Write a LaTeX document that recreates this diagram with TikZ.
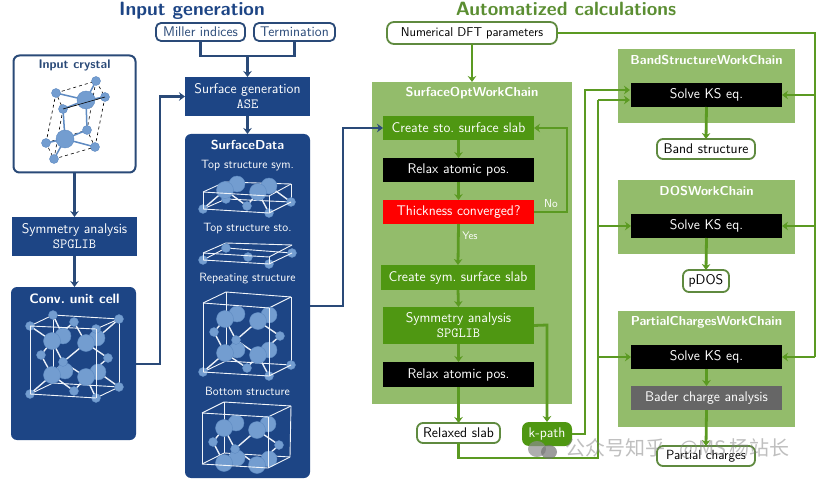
\documentclass[tikz,border=0pt]{standalone}
\usepackage{fontspec}
\newfontfamily\cjkwm{Noto Sans CJK SC}
\usetikzlibrary{arrows.meta,calc}
\definecolor{dblue}{HTML}{1D4585}
\definecolor{cblue}{HTML}{2A4A78}
\definecolor{atomc}{HTML}{739DD0}
\definecolor{atome}{HTML}{5F8BC2}
\definecolor{dgreen}{HTML}{4F9712}
\definecolor{cgreen}{HTML}{5B9A22}
\definecolor{pgreen}{HTML}{93BC6B}
\definecolor{tgreen}{HTML}{5B8E32}
\definecolor{ogreen}{HTML}{5F8A3F}
\tikzset{
  x=1pt,y=-1pt,
  txt/.style={font=\sffamily\fontsize{14}{15}\selectfont,align=center,inner sep=0pt,outer sep=0pt},
  boxb/.style={txt,fill=dblue,text=white},
  boxg/.style={txt,fill=dgreen,text=white},
  boxk/.style={txt,fill=black,text=white},
  boxr/.style={txt,fill=red,text=white},
  boxy/.style={txt,fill=black!60,text=white},
  panelb/.style={txt,fill=dblue,text=white,rounded corners=6pt},
  panelg/.style={fill=pgreen,inner sep=0pt,outer sep=0pt},
  ptitle/.style={txt,font=\sffamily\bfseries\fontsize{13}{15}\selectfont,text=white},
  inb/.style={txt,draw=cblue,line width=1.8pt,fill=white,rounded corners=5pt,text=cblue},
  outg/.style={txt,draw=ogreen,line width=1.8pt,fill=white,rounded corners=6pt,text=black},
  arb/.style={draw=cblue,line width=2.8pt,-{Stealth[length=6pt,width=8.5pt]}},
  lnb/.style={draw=cblue,line width=2.8pt},
  arg/.style={draw=cgreen,line width=2.8pt,-{Stealth[length=6pt,width=8.5pt]}},
  lng/.style={draw=cgreen,line width=2.8pt},
  sm/.style={txt,font=\sffamily\fontsize{12}{14}\selectfont,text=white},
  ttl/.style={inner sep=0pt,font=\sffamily\bfseries\fontsize{19.2}{21}\selectfont},
  wl/.style={draw=white!90!atomc,line width=0.9pt},
  wb/.style={draw=white!85!atomc,line width=1.4pt},
}
\newcommand{\atm}[3]{\fill[atomc,draw=atome,line width=.4pt] (#1,#2) circle[radius=#3pt];}
\newcommand{\cel}[4]{\draw[wl] (#1,#2)--(#3,#4);}
\newcommand{\bnd}[4]{\draw[wb] (#1,#2)--(#3,#4);}
\begin{document}
\begin{tikzpicture}
\useasboundingbox (0,0) rectangle (830,481);
\fill[white] (0,0) rectangle (830,481);
% titles
\node[ttl,text=dblue,anchor=base] (t1) at (192,15.5) {Input generation};
\node[ttl,text=tgreen,anchor=base] (t2) at (566,15.5) {Automatized calculations};
% input side
\node[inb,minimum width=89pt,minimum height=18pt] (miller) at (200.5,32) {Miller indices};
\node[inb,minimum width=81pt,minimum height=18pt] (term) at (294.5,32) {Termination};
\node[boxb,minimum width=125pt,minimum height=39pt] (surfgen) at (247.5,96.5) {Surface generation\\\texttt{ASE}};
\node[panelb,minimum width=125pt,minimum height=344pt] (sdata) at (247.5,306) {};
\node[ptitle] (sdt) at (247.5,145) {SurfaceData};
\node[sm] (l1) at (247.5,166) {Top structure sym.};
\node[sm] (l2) at (247.5,229) {Top structure sto.};
\node[sm] (l3) at (247.5,279) {Repeating structure};
\node[sm] (l4) at (247.5,391) {Bottom structure};
\node[txt,draw=cblue,line width=2pt,fill=white,rounded corners=6pt,minimum width=122pt,minimum height=117pt] (crystal) at (74.5,114) {};
\node[txt,font=\sffamily\bfseries\fontsize{12.5}{14}\selectfont,text=cblue] (ict) at (74.5,65) {Input crystal};
\node[boxb,minimum width=125pt,minimum height=39pt] (symA) at (74.5,236.5) {Symmetry analysis\\\texttt{SPGLIB}};
\node[panelb,minimum width=125pt,minimum height=153pt] (conv) at (73.5,363.5) {};
\node[ptitle,font=\sffamily\bfseries\fontsize{13.6}{15}\selectfont] (cvt) at (74.5,299) {Conv.\ unit cell};
\coordinate (mj) at (247.5,56);
\coordinate (c1) at (160,364);
\coordinate (c2) at (343,306);
\draw[lnb] (miller.south) |- (mj) -| (term.south);
\draw[arb] (mj) -- (surfgen.north);
\draw[arb] (surfgen.south) -- (sdata.north);
\draw[arb] (crystal.south) -- (symA.north);
\draw[arb] (symA.south) -- (conv.north -| symA.south);
\draw[arb] (conv.east |- c1) -- (c1) |- (surfgen.west);
% input crystal
\begin{scope}
\draw[black,dashed,line width=.6pt] (56,93)--(96,81)--(105,97)--(63,109)--cycle (46,143)--(87,130)--(95,147)--(54,159)--cycle (56,93)--(46,143) (96,81)--(87,130) (105,97)--(95,147) (63,109)--(54,159);
\draw[atome,line width=1.5pt] (56,93)--(86,100)--(96,81) (86,100)--(105,97) (86,100)--(63,109) (86,100)--(87,130) (63,109)--(65,139) (65,139)--(46,143) (65,139)--(87,130) (65,139)--(95,147) (65,139)--(54,159);
\atm{86}{100}{9}\atm{65}{139}{9}
\atm{56}{93}{4.5}\atm{96}{81}{4.5}\atm{105}{97}{4.5}\atm{63}{109}{4.5}\atm{87}{130}{4.5}\atm{46}{143}{4.5}\atm{95}{147}{4.5}\atm{54}{159}{4.5}
\draw[black,line width=.6pt] (63,109)--(105,97);
\end{scope}
% conv cell
\cel{53}{315}{119}{319}\cel{53}{315}{30}{326}\cel{119}{319}{96}{329}\cel{119}{319}{119}{387}\cel{53}{315}{53}{383}\cel{53}{383}{30}{394}\cel{53}{383}{119}{387}\cel{119}{387}{96}{398}
\bnd{52}{341}{30}{326}\bnd{52}{341}{74}{322}\bnd{86}{343}{74}{322}\bnd{86}{343}{96}{329}\bnd{52}{341}{41}{355}\bnd{52}{341}{63}{362}\bnd{86}{343}{63}{362}\bnd{86}{343}{108}{358}\bnd{52}{375}{41}{355}\bnd{52}{375}{63}{362}\bnd{86}{377}{63}{362}\bnd{86}{377}{108}{358}\bnd{52}{375}{30}{394}\bnd{52}{375}{74}{391}\bnd{86}{377}{74}{391}\bnd{86}{377}{96}{398}\bnd{63}{336}{53}{315}\bnd{97}{338}{119}{319}\bnd{65}{371}{53}{383}\bnd{98}{372}{119}{387}
\atm{63}{336}{8}\atm{97}{338}{8}\atm{65}{371}{8}\atm{98}{372}{8}
\atm{53}{315}{4.5}\atm{74}{322}{4.5}\atm{119}{319}{4.5}\atm{41}{355}{4.5}\atm{108}{358}{4.5}\atm{63}{362}{4.5}\atm{119}{387}{4.5}\atm{74}{391}{4.5}
\atm{52}{341}{8.5}\atm{86}{343}{8.5}\atm{52}{375}{8.5}\atm{86}{377}{8.5}
\atm{30}{326}{4.5}\atm{96}{329}{4.5}\atm{30}{394}{4.5}\atm{96}{398}{4.5}
\cel{30}{326}{96}{329}\cel{30}{326}{30}{394}\cel{96}{329}{96}{398}\cel{30}{394}{96}{398}
% top sym
\cel{225}{182}{291}{184}\cel{225}{182}{203}{192}\cel{291}{184}{269}{196}\cel{203}{209}{226}{199}\cel{226}{199}{291}{202}\cel{291}{184}{291}{202}\cel{225}{182}{226}{199}
\bnd{225}{190}{203}{209}\bnd{225}{190}{247}{206}\bnd{258}{192}{247}{206}\bnd{258}{192}{269}{213}\bnd{269}{186}{291}{202}\bnd{237}{184}{226}{199}
\atm{237}{184}{8}\atm{269}{186}{8}\atm{226}{199}{4.5}\atm{247}{206}{4.5}\atm{225}{190}{8.5}\atm{258}{192}{8.5}
\atm{203}{209}{4.5}\atm{291}{202}{4.5}\atm{269}{213}{4.5}
\cel{203}{192}{269}{196}\cel{203}{192}{203}{209}\cel{269}{196}{269}{213}\cel{203}{209}{269}{213}\cel{269}{213}{291}{202}
% top sto
\cel{226}{243}{292}{245}\cel{226}{243}{203}{253}\cel{292}{245}{269}{257}\cel{203}{260}{226}{248}\cel{226}{248}{292}{253}
\atm{226}{248}{4.5}\atm{248}{257}{4.5}\atm{203}{260}{4.5}\atm{292}{253}{4.5}\atm{269}{264}{4.5}
\cel{203}{253}{269}{257}\cel{203}{253}{203}{260}\cel{269}{257}{269}{264}\cel{203}{260}{269}{264}\cel{269}{264}{292}{253}
% repeating
\cel{226}{292}{291}{297}\cel{226}{292}{203}{303}\cel{291}{297}{269}{308}\cel{291}{297}{291}{365}\cel{226}{292}{226}{361}\cel{226}{361}{203}{372}\cel{226}{361}{291}{365}
\bnd{225}{319}{214}{332}\bnd{225}{319}{236}{340}\bnd{258}{321}{236}{340}\bnd{258}{321}{280}{336}\bnd{225}{353}{214}{332}\bnd{225}{353}{236}{340}\bnd{258}{355}{236}{340}\bnd{258}{355}{280}{336}\bnd{225}{353}{203}{372}\bnd{225}{353}{247}{368}\bnd{258}{355}{247}{368}\bnd{258}{355}{269}{376}
\atm{237}{314}{8}\atm{269}{315}{8}\atm{237}{350}{8}\atm{269}{350}{8}
\atm{214}{332}{4.5}\atm{280}{336}{4.5}\atm{236}{340}{4.5}\atm{247}{368}{4.5}
\atm{225}{319}{8.5}\atm{258}{321}{8.5}\atm{225}{353}{8.5}\atm{258}{355}{8.5}
\atm{203}{372}{4.5}\atm{291}{365}{4.5}\atm{269}{376}{4.5}
\cel{203}{303}{269}{308}\cel{203}{303}{203}{372}\cel{269}{308}{269}{376}\cel{203}{372}{269}{376}\cel{269}{376}{291}{365}
% bottom
\cel{224}{402}{291}{406}\cel{224}{402}{202}{413}\cel{291}{406}{268}{417}\cel{291}{406}{290}{457}\cel{224}{402}{224}{453}\cel{224}{453}{202}{464}\cel{224}{453}{290}{457}
\bnd{224}{428}{213}{442}\bnd{224}{428}{235}{449}\bnd{257}{430}{235}{449}\bnd{257}{430}{279}{445}\bnd{224}{463}{213}{442}\bnd{224}{463}{235}{449}\bnd{257}{465}{279}{445}\bnd{257}{465}{235}{449}
\atm{236}{423}{8}\atm{268}{424}{8}\atm{237}{458}{8}\atm{269}{459}{8}
\atm{213}{442}{4.5}\atm{279}{445}{4.5}\atm{235}{449}{4.5}
\atm{224}{428}{8.5}\atm{257}{430}{8.5}\atm{224}{463}{8.5}\atm{257}{465}{8.5}
\cel{202}{413}{268}{417}\cel{202}{413}{202}{464}\cel{268}{417}{268}{468}\cel{202}{464}{268}{468}\cel{268}{468}{290}{457}
% green panels
\node[panelg,minimum width=200pt,minimum height=322pt] (optp) at (472,243) {};
\node[panelg,minimum width=177pt,minimum height=74pt] (bandp) at (706.5,86) {};
\node[panelg,minimum width=177pt,minimum height=74pt] (dosp) at (706.5,217) {};
\node[panelg,minimum width=177pt,minimum height=116pt] (pcp) at (706.5,369) {};
\node[ptitle] (optt) at (472,93) {SurfaceOptWorkChain};
\node[ptitle] (bandt) at (706.5,60) {BandStructureWorkChain};
\node[ptitle] (dost) at (706.5,191) {DOSWorkChain};
\node[ptitle] (pct) at (706.5,322) {PartialChargesWorkChain};
\node[outg,rounded corners=7pt,minimum width=170pt,minimum height=22pt,font=\sffamily\fontsize{12.8}{14}\selectfont] (dft) at (472,33) {Numerical DFT parameters};
\node[boxg,minimum width=151pt,minimum height=24pt] (cs) at (458.5,128) {Create sto.\ surface slab};
\node[boxk,minimum width=151pt,minimum height=24pt] (r1) at (458.5,170) {Relax atomic pos.};
\node[boxr,minimum width=151pt,minimum height=24pt] (th) at (458.5,212) {Thickness converged?};
\node[boxg,minimum width=154pt,minimum height=25pt] (csy) at (458,277.5) {Create sym.\ surface slab};
\node[boxg,minimum width=151pt,minimum height=37pt] (sa) at (458.5,325.5) {Symmetry analysis\\\texttt{SPGLIB}};
\node[boxk,minimum width=151pt,minimum height=25pt] (r2) at (458.5,374.5) {Relax atomic pos.};
\node[outg,minimum width=83pt,minimum height=20pt] (rs) at (458.5,433) {Relaxed slab};
\node[txt,fill=dgreen,text=white,rounded corners=7pt,minimum width=50pt,minimum height=24pt] (kp) at (547,434) {k-path};
\node[boxk,minimum width=151pt,minimum height=24pt] (s1) at (706.5,95) {Solve KS eq.};
\node[boxk,minimum width=151pt,minimum height=24pt] (s2) at (706.5,226) {Solve KS eq.};
\node[boxk,minimum width=151pt,minimum height=24pt] (s3) at (706.5,357) {Solve KS eq.};
\node[boxy,minimum width=151pt,minimum height=24pt] (ba) at (706.5,398) {Bader charge analysis};
\node[outg,minimum width=98pt,minimum height=20pt] (bs) at (706,149) {Band structure};
\node[outg,minimum width=46pt,minimum height=22pt] (pd) at (706,281) {pDOS};
\node[outg,minimum width=98pt,minimum height=20pt,font=\sffamily\fontsize{13.3}{15}\selectfont] (pc) at (706,456) {Partial charges};
\node[txt,font=\sffamily\fontsize{11.5}{13}\selectfont,text=white] (no) at (551,204) {No};
\node[txt,font=\sffamily\fontsize{11}{13}\selectfont,text=white] (yes) at (470,236) {Yes};
% connectors
\draw[arb] (sdata.east |- c2) -- (c2) |- (cs.west);
\draw[arg] (dft.south) -- (optp.north);
\draw[arg] (cs.south) -- (r1.north);
\draw[arg] (r1.south) -- (th.north);
\draw[arg] (th.south) -- (csy.north);
\draw[arg] (csy.south) -- (sa.north);
\draw[arg] (sa.south) -- (r2.north);
\draw[arg] (r2.south) -- (rs.north);
\coordinate (nr) at (567,170);
\draw[arg] (th.east) -| (nr) |- (cs.east);
\coordinate (kx) at (547,325);
\draw[arg] (sa.east) -- (kx) -- (kp.north);
\coordinate (k1) at (585,434);
\coordinate (k2) at (630,90);
\draw[arg] (kp.east) -- (k1) |- (k2);
\coordinate (e1) at (458.5,458);
\coordinate (e2) at (598,458);
\coordinate (e3) at (598,100);
\coordinate (e4) at (630,100);
\draw[lng] (rs.south) -- (e1) -- (e2) -- (e3);
\draw[arg] (e3) -- (e4);
\draw[arg] (e3 |- s2.west) -- (s2.west);
\draw[arg] (e3 |- s3.west) -- (s3.west);
\coordinate (d1) at (815,33);
\draw[lng] (dft.east) -- (d1) -- (d1 |- s3.east);
\draw[arg] (d1 |- s1.east) -- (s1.east);
\draw[arg] (d1 |- s2.east) -- (s2.east);
\draw[arg] (d1 |- s3.east) -- (s3.east);
\draw[arg] (s1.south) -- (bs.north);
\draw[arg] (s2.south) -- (pd.north);
\draw[arg] (s3.south) -- (ba.north);
\draw[arg] (ba.south) -- (pc.north);
% watermark
\fill[black!45,opacity=.7] (537,449) ellipse[x radius=9pt,y radius=8pt];
\fill[black!55,opacity=.7] (549,452) ellipse[x radius=8pt,y radius=7pt];
\node[inner sep=0pt,anchor=west,opacity=.5,text=black!50,font=\cjkwm\fontsize{20}{22}\selectfont] (wm) at (565,449) {公众号知乎\hspace{14pt}@MS\hspace{3pt}杨站长};
\end{tikzpicture}
\end{document}
